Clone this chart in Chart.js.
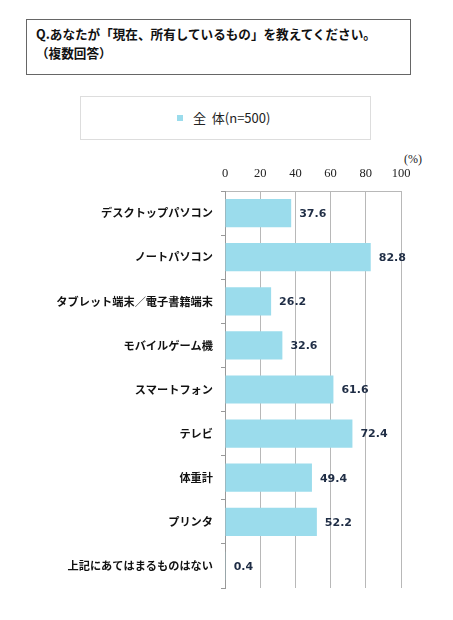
<!DOCTYPE html>
<html lang="ja">
<head>
    <meta charset="UTF-8">
    <meta name="viewport" content="width=device-width, initial-scale=1.0">
    <title>所有しているもの</title>
    <script src="https://cdn.jsdelivr.net/npm/chart.js"></script>
    <style>
        body {
            margin: 0;
            background: #fff;
            font-family: "Noto Sans CJK JP", sans-serif;
        }
        #page {
            position: relative;
            width: 453px;
            height: 620px;
            overflow: hidden;
        }
        #question {
            position: absolute;
            left: 26px;
            top: 19px;
            width: 385px;
            height: 56px;
            box-sizing: border-box;
            border: 1.5px solid #666;
            padding: 4px 0 0 9px;
            font-size: 12.6px;
            font-weight: bold;
            line-height: 19px;
            color: #111;
        }
        #legendBox {
            position: absolute;
            left: 80px;
            top: 96px;
            width: 291px;
            height: 44px;
            box-sizing: border-box;
            border: 1px solid #ddd;
            font-size: 13px;
            color: #222;
        }
        #legendBox .item {
            position: absolute;
            left: 96px;
            top: 12px;
            line-height: 18px;
        }
        #legendBox .swatch {
            display: inline-block;
            width: 6px;
            height: 6px;
            background: #9bdcec;
            margin-right: 10px;
            vertical-align: 2px;
        }
        #unit {
            position: absolute;
            left: 404px;
            top: 152px;
            font-family: "Liberation Serif", serif;
            font-size: 12px;
            color: #222;
        }
        #chartWrap {
            position: absolute;
            left: 0;
            top: 0;
            width: 453px;
            height: 620px;
        }
    </style>
</head>
<body>
    <div id="page">
        <div id="question">Q.あなたが「現在、所有しているもの」を教えてください。<br>（複数回答）</div>
        <div id="legendBox"><div class="item"><span class="swatch"></span>全&nbsp;&nbsp;体(n=500)</div></div>
        <div id="unit">(%)</div>
        <div id="chartWrap"><canvas id="ownChart"></canvas></div>
    </div>

    <script>
        const categories = [
            'デスクトップパソコン',
            'ノートパソコン',
            'タブレット端末／電子書籍端末',
            'モバイルゲーム機',
            'スマートフォン',
            'テレビ',
            '体重計',
            'プリンタ',
            '上記にあてはまるものはない'
        ];
        const totalValues = [37.6, 82.8, 26.2, 32.6, 61.6, 72.4, 49.4, 52.2, 0.4];
        const xTicks = [0, 20, 40, 60, 80, 100];

        // value labels to the right of each bar
        const valueLabels = {
            id: 'valueLabels',
            afterDatasetsDraw(chart) {
                const ctx = chart.ctx;
                const meta = chart.getDatasetMeta(0);
                ctx.save();
                ctx.font = 'bold 11px "DejaVu Sans", sans-serif';
                ctx.fillStyle = '#1f2d45';
                ctx.textAlign = 'left';
                ctx.textBaseline = 'middle';
                meta.data.forEach((bar, i) => {
                    ctx.fillText(totalValues[i].toFixed(1), bar.x + 8, bar.y + 1);
                });
                ctx.restore();
            }
        };

        const ctx = document.getElementById('ownChart').getContext('2d');
        const ownChart = new Chart(ctx, {
            type: 'bar',
            data: {
                labels: categories,
                datasets: [{
                    label: '全 体(n=500)',
                    data: totalValues,
                    backgroundColor: '#9bdcec',
                    borderWidth: 0,
                    categoryPercentage: 1,
                    barPercentage: 0.64
                }]
            },
            options: {
                indexAxis: 'y',
                responsive: true,
                maintainAspectRatio: false,
                animation: false,
                layout: {
                    padding: { left: 0, right: 52, top: 150, bottom: 32 }
                },
                plugins: {
                    legend: { display: false },
                    tooltip: { enabled: false }
                },
                scales: {
                    x: {
                        position: 'top',
                        min: 0,
                        max: 100,
                        afterBuildTicks: scale => {
                            scale.ticks = xTicks.map(v => ({ value: v }));
                        },
                        afterFit: scale => { scale.height = 41; },
                        grid: {
                            color: '#b8b8b8',
                            lineWidth: 1,
                            drawTicks: false
                        },
                        border: { display: true, color: '#b8b8b8' },
                        ticks: {
                            padding: 10,
                            color: '#222',
                            font: { family: '"Liberation Serif", serif', size: 12.5 }
                        }
                    },
                    y: {
                        afterFit: scale => { scale.width = 225; },
                        grid: {
                            drawOnChartArea: false,
                            drawTicks: true,
                            tickLength: 4,
                            color: '#999'
                        },
                        border: { display: true, color: '#999' },
                        ticks: {
                            padding: 8,
                            color: '#111',
                            font: { family: '"Noto Sans CJK JP", sans-serif', size: 11.2, weight: 'bold' }
                        }
                    }
                }
            },
            plugins: [valueLabels]
        });
    </script>
</body>
</html>
